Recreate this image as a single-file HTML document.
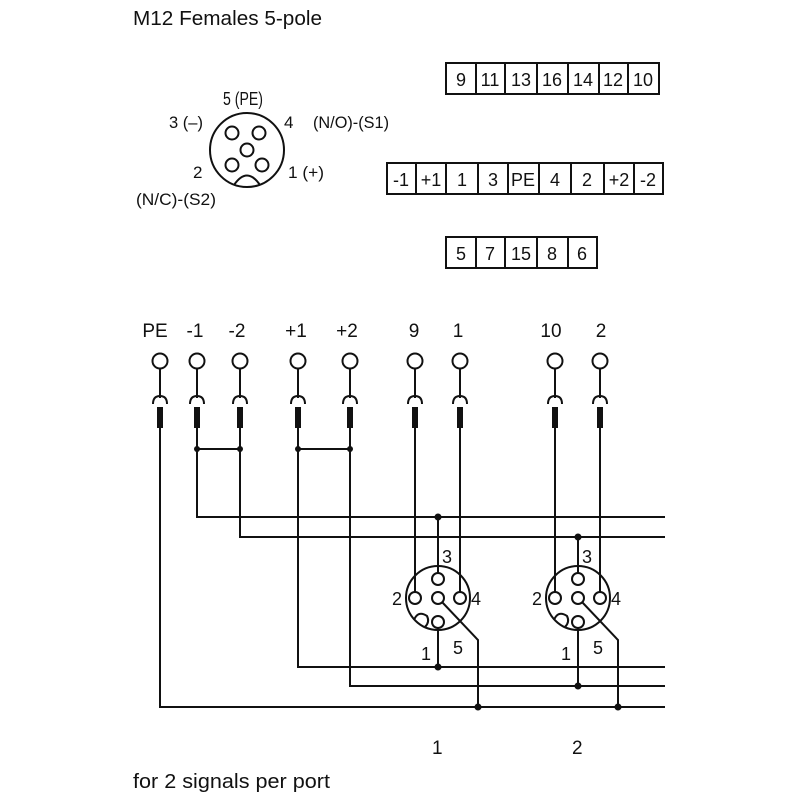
<!DOCTYPE html>
<html><head><meta charset="utf-8"><style>
html,body{margin:0;padding:0;background:#fff}
svg{display:block}
text{font-family:"Liberation Sans Narrow","Liberation Sans",sans-serif;fill:#111}
</style></head><body>
<svg width="800" height="800" viewBox="0 0 800 800" xmlns="http://www.w3.org/2000/svg">
<defs>
<g id="t" stroke="#111" stroke-width="2" fill="none">
<circle cx="0" cy="361" r="7.5"/>
<path d="M0 368.5V398M-7 404Q-7 396 0 396Q7 396 7 404"/>
<rect x="-2" y="408" width="4" height="19" fill="#111"/>
</g>
</defs>
<g font-size="20">
<text x="133" y="25" textLength="189" lengthAdjust="spacingAndGlyphs">M12 Females  5-pole</text>
<text x="133" y="788" textLength="197" lengthAdjust="spacingAndGlyphs">for 2 signals per port</text>
<text x="432" y="754" font-size="19">1</text>
<text x="572" y="754" font-size="19">2</text>
</g>
<g stroke="#111" stroke-width="2" fill="none">
<circle cx="247" cy="150" r="37"/>
<circle cx="232" cy="133" r="6.5"/><circle cx="259" cy="133" r="6.5"/>
<circle cx="247" cy="150" r="6.5"/>
<circle cx="232" cy="165" r="6.5"/><circle cx="262" cy="165" r="6.5"/>
<path d="M234 185 Q247 166 260 185"/>
</g>
<g font-size="17">
<text x="223" y="105" font-size="18" textLength="40" lengthAdjust="spacingAndGlyphs">5 (PE)</text>
<text x="169" y="128" textLength="34" lengthAdjust="spacingAndGlyphs">3 (–)</text>
<text x="284" y="128">4</text>
<text x="313" y="128" textLength="76" lengthAdjust="spacingAndGlyphs">(N/O)-(S1)</text>
<text x="193" y="178">2</text>
<text x="288" y="178" textLength="36" lengthAdjust="spacingAndGlyphs">1 (+)</text>
<text x="136" y="205" textLength="80" lengthAdjust="spacingAndGlyphs">(N/C)-(S2)</text>
</g>
<g stroke="#111" stroke-width="2" fill="none">
<rect x="446" y="63" width="213" height="31"/>
<path d="M476 63V94M505 63V94M537 63V94M568 63V94M599 63V94M628 63V94"/>
<rect x="387" y="163" width="276" height="31"/>
<path d="M416 163V194M446 163V194M478 163V194M508 163V194M539 163V194M571 163V194M604 163V194M634 163V194"/>
<rect x="446" y="237" width="151" height="31"/>
<path d="M476 237V268M505 237V268M537 237V268M568 237V268"/>
</g>
<g font-size="18" text-anchor="middle">
<text x="461" y="86">9</text><text x="490" y="86">11</text><text x="521" y="86">13</text><text x="552" y="86">16</text><text x="583" y="86">14</text><text x="613" y="86">12</text><text x="643" y="86">10</text>
<text x="401" y="186">-1</text><text x="431" y="186">+1</text><text x="462" y="186">1</text><text x="493" y="186">3</text><text x="523" y="186">PE</text><text x="555" y="186">4</text><text x="587" y="186">2</text><text x="619" y="186">+2</text><text x="648" y="186">-2</text>
<text x="461" y="260">5</text><text x="490" y="260">7</text><text x="521" y="260">15</text><text x="552" y="260">8</text><text x="582" y="260">6</text>
</g>
<g font-size="19" text-anchor="middle">
<text x="155" y="337">PE</text><text x="195" y="337">-1</text><text x="237" y="337">-2</text>
<text x="296" y="337">+1</text><text x="347" y="337">+2</text>
<text x="414" y="337">9</text><text x="458" y="337">1</text>
<text x="551" y="337">10</text><text x="601" y="337">2</text>
</g>
<use href="#t" x="160"/><use href="#t" x="197"/><use href="#t" x="240"/>
<use href="#t" x="298"/><use href="#t" x="350"/>
<use href="#t" x="415"/><use href="#t" x="460"/>
<use href="#t" x="555"/><use href="#t" x="600"/>
<g stroke="#111" stroke-width="2" fill="none">
<path d="M160 427V707H665"/>
<path d="M197 427V517H665"/>
<path d="M240 427V537H665"/>
<path d="M298 427V667H665"/>
<path d="M350 427V686H665"/>
<path d="M197 449H240M298 449H350"/>
<path d="M415 427V592M460 427V592"/>
<path d="M555 427V592M600 427V592"/>
<circle cx="438" cy="598" r="32"/>
<circle cx="438" cy="579" r="6"/><circle cx="415" cy="598" r="6"/><circle cx="438" cy="598" r="6"/><circle cx="460" cy="598" r="6"/><circle cx="438" cy="622" r="6"/>
<path d="M414 620Q418 610 427 616Q430 622 425 627"/>
<path d="M438 517V573M438 628V667M442 602L478 640V707"/>
<circle cx="578" cy="598" r="32"/>
<circle cx="578" cy="579" r="6"/><circle cx="555" cy="598" r="6"/><circle cx="578" cy="598" r="6"/><circle cx="600" cy="598" r="6"/><circle cx="578" cy="622" r="6"/>
<path d="M554 620Q558 610 567 616Q570 622 565 627"/>
<path d="M578 537V573M578 628V686M582 602L618 640V707"/>
</g>
<g fill="#111">
<circle cx="197" cy="449" r="3"/><circle cx="240" cy="449" r="3"/><circle cx="298" cy="449" r="3"/><circle cx="350" cy="449" r="3"/>
<circle cx="438" cy="517" r="3.5"/><circle cx="438" cy="667" r="3.5"/><circle cx="478" cy="707" r="3.5"/>
<circle cx="578" cy="537" r="3.5"/><circle cx="578" cy="686" r="3.5"/><circle cx="618" cy="707" r="3.5"/>
</g>
<g font-size="18">
<text x="442" y="563">3</text><text x="392" y="605">2</text><text x="471" y="605">4</text>
<text x="421" y="660">1</text><text x="453" y="654">5</text>
<text x="582" y="563">3</text><text x="532" y="605">2</text><text x="611" y="605">4</text>
<text x="561" y="660">1</text><text x="593" y="654">5</text>
</g>
</svg>
</body></html>
